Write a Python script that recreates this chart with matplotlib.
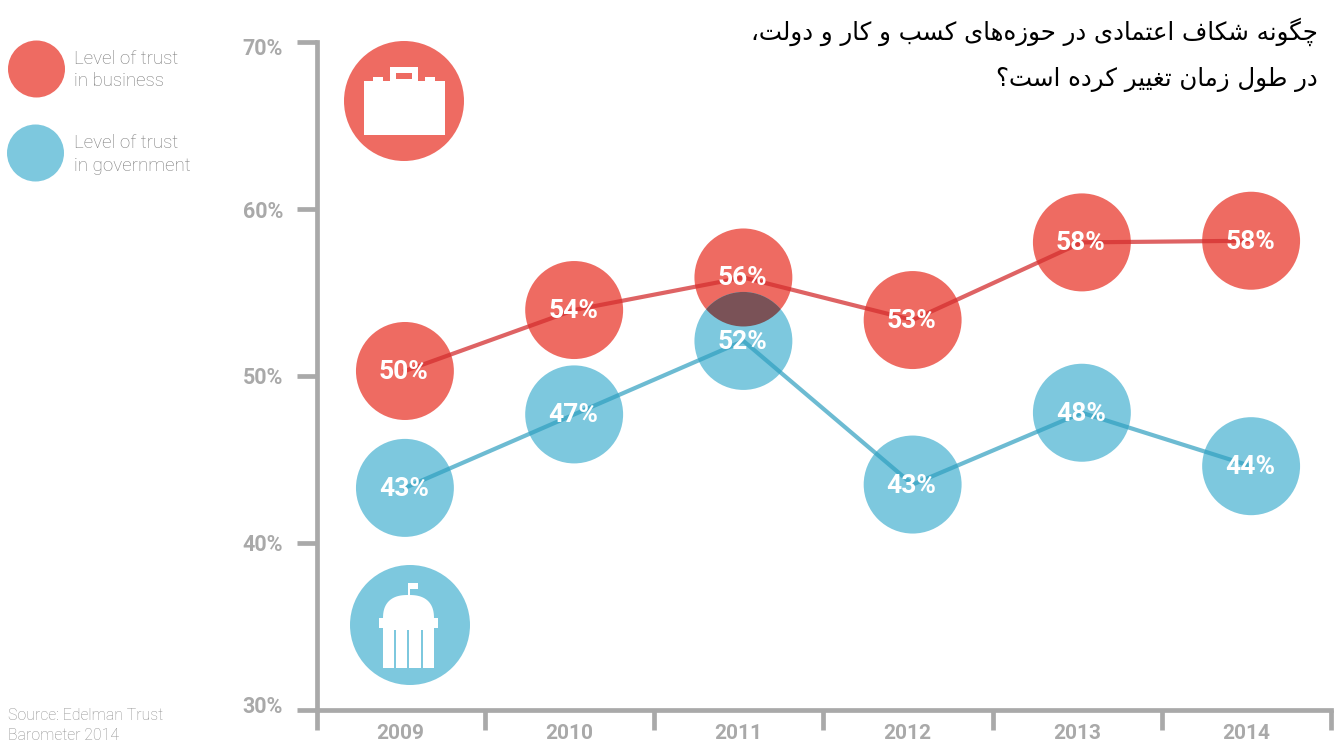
import unicodedata
import numpy as np
import matplotlib
matplotlib.use("Agg")
import matplotlib.pyplot as plt
from matplotlib.patches import Ellipse, Circle, Rectangle, Polygon

years = np.array([2009, 2010, 2011, 2012, 2013, 2014])
business = [50.3, 53.95, 55.9, 53.35, 58.0, 58.1]
government = [43.3, 47.7, 52.1, 43.5, 47.8, 44.6]
business_labels = ["50%", "54%", "56%", "53%", "58%", "58%"]
government_labels = ["43%", "47%", "52%", "43%", "48%", "44%"]
y_ticks = [30, 40, 50, 60, 70]
y_labels = ["30%", "40%", "50%", "60%", "70%"]
title_lines = ["چگونه شکاف اعتمادی در حوزه\u200cهای کسب و کار و دولت،",
               "در طول زمان تغییر کرده است؟"]
legend_business = ["Level of trust", "in business"]
legend_government = ["Level of trust", "in government"]
source_lines = ["Source: Edelman Trust", "Barometer 2014"]

RED = "#ee6b62"
BLUE = "#7dc8de"
GREY = "#a9a9a9"
TEXT_GREY = "#787878"
SANS = "Roboto"
THIN = "Roboto"

# matplotlib does not join arabic letters, so pick the joined forms by hand
RIGHT_ONLY = "ادذرزژو"

def is_letter(c):
    return c != "" and "ARABIC LETTER" in unicodedata.name(c, "")

def shape_fa(text):
    out = []
    for i, c in enumerate(text):
        if not is_letter(c):
            if c != "\u200c":
                out.append(c)
            continue
        prev = text[i - 1] if i > 0 else ""
        nxt = text[i + 1] if i < len(text) - 1 else ""
        join_prev = is_letter(prev) and prev not in RIGHT_ONLY
        join_next = is_letter(nxt) and c not in RIGHT_ONLY
        if join_prev and join_next:
            form = "MEDIAL"
        elif join_prev:
            form = "FINAL"
        elif join_next:
            form = "INITIAL"
        else:
            form = "ISOLATED"
        out.append(unicodedata.lookup(unicodedata.name(c) + " " + form + " FORM"))
    return "".join(out[::-1])

fig = plt.figure(figsize=(13.41, 7.42), dpi=100)
W, H = 1341.0, 742.0

# chart axes, pixel box x 317-1331, y 42-710
ax = fig.add_axes([317 / W, 1 - 710 / H, 1014 / W, 668 / H])
ax.set_xlim(2009 - 0.5195, 2014 + 0.4664)
ax.set_ylim(30, 70)
ax.patch.set_alpha(0)
for s in ["top", "right"]:
    ax.spines[s].set_visible(False)
for s in ["left", "bottom"]:
    ax.spines[s].set_color(GREY)
    ax.spines[s].set_linewidth(3.4)

ax.set_yticks(y_ticks)
ax.set_yticklabels([])
ax.tick_params(axis="y", length=14.4, width=3.4, color=GREY)
ax.set_xticks(np.append(years[0] - 0.5195, years + 0.472))
ax.set_xticklabels([])
ax.tick_params(axis="x", which="major", length=14.4, width=3.4, color=GREY)
ax.set_xticks(years - 0.03, [str(y) for y in years], minor=True)
ax.tick_params(axis="x", which="minor", length=0, pad=10, labelsize=15, labelcolor=GREY)
for lab in ax.get_xticklabels(minor=True):
    lab.set_fontfamily(SANS)
    lab.set_fontweight("bold")

nudge = {30: 3, 40: -2, 50: -2, 60: -3, 70: -7}
for v, t in zip(y_ticks, y_labels):
    ax.annotate(t, (0, v), xycoords=ax.get_yaxis_transform(), xytext=(-34, nudge[v]),
                textcoords="offset pixels", ha="right", va="center", fontsize=15.5,
                color=GREY, family=SANS, fontweight="bold")

def bubble(x, y, color, zorder=2):
    p = Ellipse((x, y), 98 / 169.4, 98 / 16.7, fc=color, ec="none", zorder=zorder)
    ax.add_patch(p)
    return p

red_bubbles = [bubble(x, y, RED) for x, y in zip(years, business)]
blue_bubbles = [bubble(x, y, BLUE) for x, y in zip(years, government)]

# overlap of the two 2011 bubbles
overlap = bubble(years[2], government[2], "#7a5257", zorder=3)
overlap.set_clip_path(red_bubbles[2])

ax.plot(years, business, color="#d42f30", alpha=0.75, lw=3, zorder=4)
ax.plot(years, government, color="#2f9fc0", alpha=0.7, lw=3, zorder=4)

for vals, labs in [(business, business_labels), (government, government_labels)]:
    for x, v, t in zip(years, vals, labs):
        ax.annotate(t, (x, v), xytext=(-1, -1), textcoords="offset pixels", ha="center",
                    va="center", fontsize=19, color="white", family=SANS,
                    fontweight="bold", zorder=5)

# overlay in image pixels for legend, icons and notes
ov = fig.add_axes([0, 0, 1, 1], zorder=5)
ov.set_xlim(0, W)
ov.set_ylim(H, 0)
ov.axis("off")
ov.patch.set_alpha(0)

ov.add_patch(Circle((36.5, 69), 28.5, fc=RED, ec="none"))
ov.add_patch(Circle((35.5, 153), 28.5, fc=BLUE, ec="none"))
for (a, b), (y1, y2) in [((legend_business), (59, 81)), ((legend_government), (143, 166))]:
    ov.text(74, y1, a, fontsize=13.5, color=TEXT_GREY, family=THIN, fontweight="light", va="center")
    ov.text(74, y2, b, fontsize=13.5, color=TEXT_GREY, family=THIN, fontweight="light", va="center")
ov.text(8, 715, source_lines[0], fontsize=11.4, color="#8f8f8f", family=THIN, fontweight="light", va="center")
ov.text(8, 735, source_lines[1], fontsize=11.4, color="#8f8f8f", family=THIN, fontweight="light", va="center")

# briefcase icon
ov.add_patch(Circle((404, 101), 60, fc=RED, ec="none"))
ov.add_patch(Rectangle((364, 81), 81, 54, fc="white", ec="none"))
ov.add_patch(Rectangle((390, 67), 28, 15, fc="white", ec="none"))
ov.add_patch(Rectangle((396, 73), 16, 6, fc=RED, ec="none"))
ov.add_patch(Rectangle((373, 77), 10, 5, fc="white", ec="none"))
ov.add_patch(Rectangle((425, 77), 10, 5, fc="white", ec="none"))

# capitol icon
ov.add_patch(Circle((410, 625), 60, fc=BLUE, ec="none"))
ov.add_patch(Rectangle((383, 628), 51, 40, fc="white", ec="none"))
ov.add_patch(Rectangle((379, 618), 59, 10, fc="white", ec="none"))
t = np.linspace(0, np.pi, 60)
ov.add_patch(Polygon(np.c_[408.5 + 25.5 * np.sign(np.cos(t)) * np.abs(np.cos(t)) ** 0.8,
                           619 - 24 * np.sin(t) ** 0.8], fc="white", ec="none"))
ov.add_patch(Rectangle((408, 583), 2, 13, fc="white", ec="none"))
ov.add_patch(Rectangle((410, 583), 8, 6, fc="white", ec="none"))
for x in [395, 408, 422]:
    ov.add_patch(Rectangle((x - 0.6, 630), 1.2, 38, fc=BLUE, ec="none"))

for y, line in zip([32, 80], title_lines):
    ov.text(1318, y, shape_fa(line), fontsize=17.65, color="black", family="DejaVu Sans",
            ha="right", va="center")

fig.savefig("out.png", dpi=100)
